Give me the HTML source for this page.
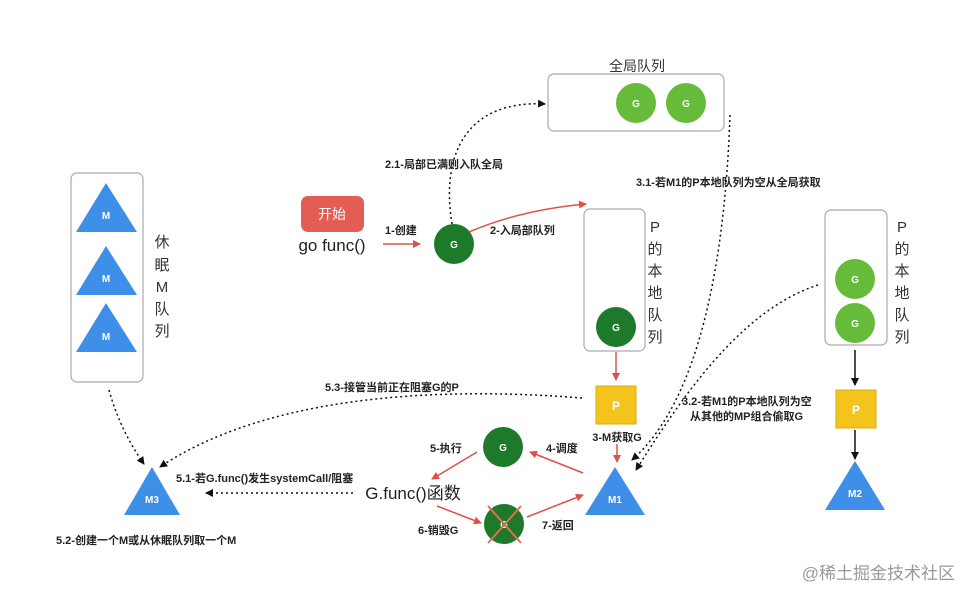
<!DOCTYPE html>
<html><head><meta charset="utf-8"><style>
html,body{margin:0;padding:0;background:#fff;}
svg{display:block;}
text{font-family:"Liberation Sans","Noto Sans CJK SC",sans-serif;}
.b{font-size:11px;font-weight:bold;fill:#222;}
.v{font-size:15px;fill:#333;}
.w{font-size:10px;font-weight:bold;fill:#fff;}
</style></head><body>
<svg width="970" height="601" viewBox="0 0 970 601" xmlns="http://www.w3.org/2000/svg">
<defs>
<marker id="ar" markerWidth="8" markerHeight="8" refX="7" refY="4" orient="auto" markerUnits="userSpaceOnUse"><path d="M0,0 L8,4 L0,8 Z" fill="#e0504a"/></marker>
<marker id="ak" markerWidth="8" markerHeight="8" refX="7" refY="4" orient="auto" markerUnits="userSpaceOnUse"><path d="M0,0 L8,4 L0,8 Z" fill="#111"/></marker>
</defs>
<!-- global queue -->
<text x="637" y="71" text-anchor="middle" style="font-size:14px;fill:#333">全局队列</text>
<rect x="548" y="74" width="176" height="57" rx="6" fill="#fff" stroke="#aaa" stroke-width="1.2"/>
<circle cx="636" cy="103" r="20" fill="#66bb3a"/><text x="636" y="107" class="w" text-anchor="middle">G</text>
<circle cx="686" cy="103" r="20" fill="#66bb3a"/><text x="686" y="107" class="w" text-anchor="middle">G</text>
<!-- sleep M queue -->
<rect x="71" y="173" width="72" height="209" rx="6" fill="#fff" stroke="#aaa" stroke-width="1.2"/>
<polygon points="106,183 137,232 76,232" fill="#3d8fe8"/><text x="106" y="219" class="w" text-anchor="middle">M</text>
<polygon points="106,246 137,295 76,295" fill="#3d8fe8"/><text x="106" y="282" class="w" text-anchor="middle">M</text>
<polygon points="106,303 137,352 76,352" fill="#3d8fe8"/><text x="106" y="340" class="w" text-anchor="middle">M</text>
<g class="v" text-anchor="middle"><text x="162" y="247">休</text><text x="162" y="270">眠</text><text x="162" y="292">M</text><text x="162" y="314">队</text><text x="162" y="336">列</text></g>
<!-- start -->
<rect x="301" y="196" width="63" height="36" rx="7" fill="#e35d55"/>
<text x="332" y="219" text-anchor="middle" style="font-size:14px;fill:#fff">开始</text>
<text x="332" y="251" text-anchor="middle" style="font-size:17px;fill:#222">go func()</text>
<line x1="383" y1="244" x2="420" y2="244" stroke="#e0504a" stroke-width="1.5" marker-end="url(#ar)"/>
<text x="385" y="234" class="b">1-创建</text>
<circle cx="454" cy="244" r="20" fill="#1c7a2a"/><text x="454" y="248" class="w" text-anchor="middle">G</text>
<path d="M469,232 Q520,210 586,204" fill="none" stroke="#e0504a" stroke-width="1.5" marker-end="url(#ar)"/>
<text x="490" y="234" class="b">2-入局部队列</text>
<path d="M452,224 C440,150 470,100 545,104" fill="none" stroke="#111" stroke-width="1.5" stroke-dasharray="2,3" marker-end="url(#ak)"/>
<text x="385" y="168" class="b">2.1-局部已满则入队全局</text>
<!-- P local queue 1 -->
<rect x="584" y="209" width="61" height="142" rx="6" fill="#fff" stroke="#aaa" stroke-width="1.2"/>
<circle cx="616" cy="327" r="20" fill="#1c7a2a"/><text x="616" y="331" class="w" text-anchor="middle">G</text>
<g class="v" text-anchor="middle"><text x="655" y="232">P</text><text x="655" y="254">的</text><text x="655" y="276">本</text><text x="655" y="298">地</text><text x="655" y="320">队</text><text x="655" y="342">列</text></g>
<line x1="616" y1="352" x2="616" y2="380" stroke="#e0504a" stroke-width="1.5" marker-end="url(#ar)"/>
<rect x="596" y="386" width="40" height="38" fill="#f3c41c" stroke="#d8ac10"/>
<text x="616" y="410" class="w" text-anchor="middle" style="font-size:12px">P</text>
<text x="617" y="441" class="b" text-anchor="middle">3-M获取G</text>
<line x1="617" y1="444" x2="617" y2="462" stroke="#e0504a" stroke-width="1.5" marker-end="url(#ar)"/>
<polygon points="615,467 645,515 585,515" fill="#3d8fe8"/><text x="615" y="503" class="w" text-anchor="middle">M1</text>
<!-- 3.1 -->
<path d="M730,115 C725,260 700,400 632,460" fill="none" stroke="#111" stroke-width="1.5" stroke-dasharray="2,3" marker-end="url(#ak)"/>
<text x="636" y="186" class="b">3.1-若M1的P本地队列为空从全局获取</text>
<!-- right P queue -->
<rect x="825" y="210" width="62" height="135" rx="6" fill="#fff" stroke="#aaa" stroke-width="1.2"/>
<circle cx="855" cy="279" r="20" fill="#66bb3a"/><text x="855" y="283" class="w" text-anchor="middle">G</text>
<circle cx="855" cy="323" r="20" fill="#66bb3a"/><text x="855" y="327" class="w" text-anchor="middle">G</text>
<g class="v" text-anchor="middle"><text x="902" y="232">P</text><text x="902" y="254">的</text><text x="902" y="276">本</text><text x="902" y="298">地</text><text x="902" y="320">队</text><text x="902" y="342">列</text></g>
<line x1="855" y1="350" x2="855" y2="385" stroke="#111" stroke-width="1.5" marker-end="url(#ak)"/>
<rect x="836" y="390" width="40" height="38" fill="#f3c41c" stroke="#d8ac10"/>
<text x="856" y="414" class="w" text-anchor="middle" style="font-size:12px">P</text>
<line x1="855" y1="430" x2="855" y2="459" stroke="#111" stroke-width="1.5" marker-end="url(#ak)"/>
<polygon points="855,461 885,510 825,510" fill="#3d8fe8"/><text x="855" y="497" class="w" text-anchor="middle">M2</text>
<path d="M818,285 C740,310 680,400 636,470" fill="none" stroke="#111" stroke-width="1.5" stroke-dasharray="2,3" marker-end="url(#ak)"/>
<text x="682" y="405" class="b">3.2-若M1的P本地队列为空</text>
<text x="690" y="420" class="b">从其他的MP组合偷取G</text>
<!-- exec cycle -->
<circle cx="503" cy="447" r="20" fill="#1c7a2a"/><text x="503" y="451" class="w" text-anchor="middle">G</text>
<line x1="583" y1="473" x2="530" y2="452" stroke="#e0504a" stroke-width="1.5" marker-end="url(#ar)"/>
<text x="546" y="452" class="b">4-调度</text>
<line x1="477" y1="452" x2="432" y2="479" stroke="#e0504a" stroke-width="1.5" marker-end="url(#ar)"/>
<text x="430" y="452" class="b">5-执行</text>
<text x="413" y="499" text-anchor="middle" style="font-size:17px;fill:#222">G.func()函数</text>
<line x1="437" y1="506" x2="481" y2="523" stroke="#e0504a" stroke-width="1.5" marker-end="url(#ar)"/>
<text x="418" y="534" class="b">6-销毁G</text>
<circle cx="504" cy="524" r="20" fill="#1c7a2a"/><text x="504" y="528" class="w" text-anchor="middle">G</text>
<line x1="488" y1="506" x2="521" y2="543" stroke="#e07050" stroke-width="2"/>
<line x1="521" y1="506" x2="488" y2="543" stroke="#e07050" stroke-width="2"/>
<line x1="527" y1="517" x2="583" y2="495" stroke="#e0504a" stroke-width="1.5" marker-end="url(#ar)"/>
<text x="542" y="529" class="b">7-返回</text>
<!-- M3 -->
<polygon points="152,467 180,515 124,515" fill="#3d8fe8"/><text x="152" y="503" class="w" text-anchor="middle">M3</text>
<path d="M109,390 Q120,430 144,464" fill="none" stroke="#111" stroke-width="1.5" stroke-dasharray="2,3" marker-end="url(#ak)"/>
<path d="M582,398 C420,385 260,400 160,467" fill="none" stroke="#111" stroke-width="1.5" stroke-dasharray="2,3" marker-end="url(#ak)"/>
<text x="325" y="391" class="b">5.3-接管当前正在阻塞G的P</text>
<line x1="353" y1="493" x2="206" y2="493" stroke="#111" stroke-width="1.5" stroke-dasharray="2,3" marker-end="url(#ak)"/>
<text x="176" y="482" class="b">5.1-若G.func()发生systemCall/阻塞</text>
<text x="56" y="544" class="b">5.2-创建一个M或从休眠队列取一个M</text>
<text x="955" y="579" text-anchor="end" style="font-size:17px;fill:#999">@稀土掘金技术社区</text>
</svg>
</body></html>
